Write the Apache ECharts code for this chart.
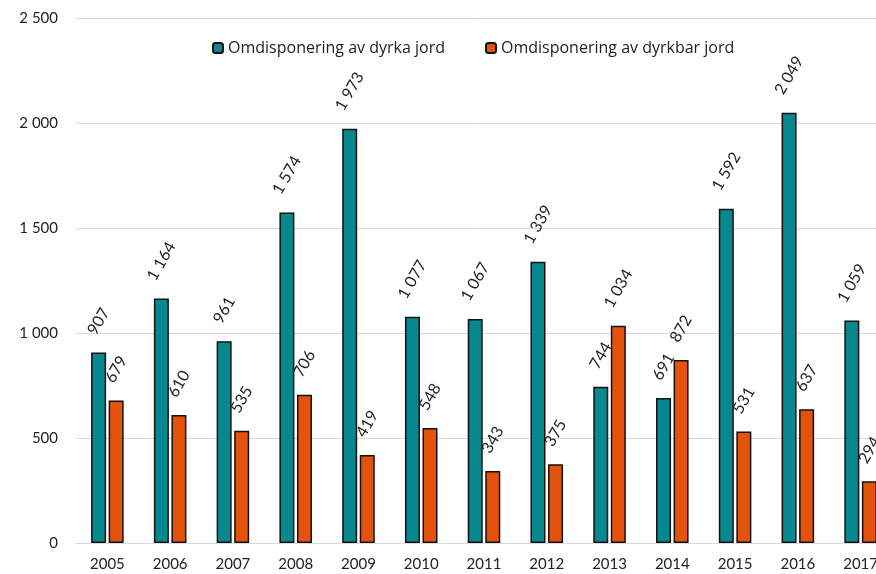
<!DOCTYPE html>
<html>
<head>
<meta charset="utf-8">
<script src="https://cdn.jsdelivr.net/npm/echarts@6/dist/echarts.min.js"></script>
<style>
  html, body { margin: 0; padding: 0; background: #fff; }
  #chart { width: 876px; height: 574px; }
</style>
</head>
<body>
<div id="chart"></div>
<script>
// årstall
const years = ["2005", "2006", "2007", "2008", "2009", "2010", "2011", "2012", "2013", "2014", "2015", "2016", "2017"];
// dekar
const dyrka = [907, 1164, 961, 1574, 1973, 1077, 1067, 1339, 744, 691, 1592, 2049, 1059];
const dyrkbar = [679, 610, 535, 706, 419, 548, 343, 375, 1034, 872, 531, 637, 294];
const yTicks = [0, 500, 1000, 1500, 2000, 2500];

const FONT = "Lato, 'Open Sans', sans-serif";

// tall med mellomrom som tusenskille
function fmt(v) {
  return String(v).replace(/\B(?=(\d{3})+(?!\d))/g, " ");
}

// rotert etikett: avstand fra stolpetopp til midten av teksten
function withLabel(arr) {
  return arr.map(function (v) {
    const s = fmt(v);
    const w = s.replace(/ /g, "").length * 9.3 + (s.indexOf(" ") >= 0 ? 5 : 0);
    const h = w * Math.sin(Math.PI / 3) + 16 * 0.5;
    return { value: v, label: { distance: 15 + h / 2 } };
  });
}

const chart = echarts.init(document.getElementById("chart"));
const labelBase = {
  show: true,
  position: "top",
  rotate: 60,
  align: "center",
  verticalAlign: "middle",
  color: "#222",
  fontSize: 16,
  fontFamily: FONT,
  formatter: function (p) { return fmt(p.value); }
};

chart.setOption({
  animation: false,
  textStyle: { fontFamily: FONT },
  legend: {
    top: 35,
    left: 207,
    itemWidth: 10,
    itemHeight: 10,
    itemGap: 40,
    textStyle: { fontSize: 16, color: "#222", fontFamily: "'Open Sans', sans-serif" },
    data: ["Omdisponering av dyrka jord", "Omdisponering av dyrkbar jord"]
  },
  // plottet går litt forbi høyre kant, som i originalen
  grid: { left: 76, width: 816, top: 18, bottom: 31, containLabel: false, outerBoundsMode: "none" },
  xAxis: {
    type: "category",
    data: years,
    axisLine: { lineStyle: { color: "#d9d9d9", width: 1 } },
    axisTick: { show: false },
    axisLabel: { fontSize: 15, color: "#222", margin: 14, fontFamily: FONT, hideOverlap: false }
  },
  yAxis: {
    type: "value",
    min: yTicks[0],
    max: yTicks[yTicks.length - 1],
    interval: 500,
    axisLine: { show: false },
    axisTick: { show: false },
    splitLine: { lineStyle: { color: "#d9d9d9", width: 1 } },
    axisLabel: { fontSize: 15, color: "#222", margin: 18, fontFamily: FONT, formatter: fmt }
  },
  series: [
    {
      name: "Omdisponering av dyrka jord",
      type: "bar",
      barWidth: 15,
      barGap: "17%",
      data: withLabel(dyrka),
      itemStyle: { color: "#05898F", borderColor: "#111", borderWidth: 1.5 },
      label: labelBase
    },
    {
      name: "Omdisponering av dyrkbar jord",
      type: "bar",
      barWidth: 15,
      barGap: "17%",
      data: withLabel(dyrkbar),
      itemStyle: { color: "#E5520C", borderColor: "#111", borderWidth: 1.5 },
      label: labelBase
    }
  ]
});
</script>
</body>
</html>
